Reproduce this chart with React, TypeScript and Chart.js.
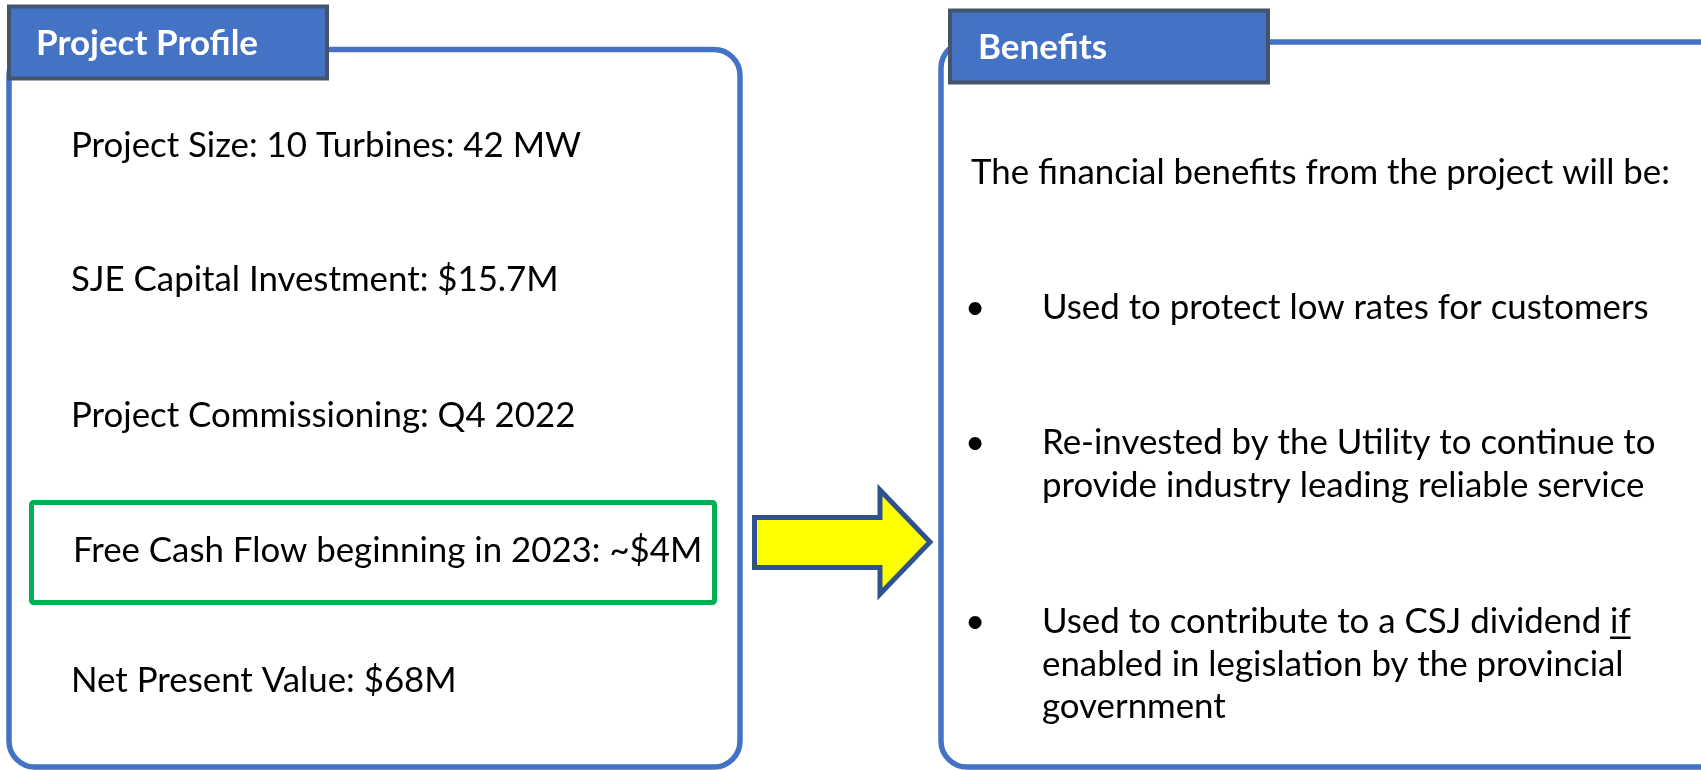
import React, { useEffect, useRef } from "react";
import { Chart, registerables } from "chart.js";

Chart.register(...registerables);

// ---- content ----
const profileTitle = "Project Profile";
const profileItems = [
  "Project Size: 10 Turbines: 42 MW",
  "SJE Capital Investment: $15.7M",
  "Project Commissioning: Q4 2022",
  "Free Cash Flow beginning in 2023: ~$4M",
  "Net Present Value: $68M",
];
const highlightedItem = 3;

const benefitsTitle = "Benefits";
const benefitsIntro = "The financial benefits from the project will be:";
const benefitBullets = [
  ["Used to protect low rates for customers"],
  ["Re-invested by the Utility to continue to", "provide industry leading reliable service"],
  ["Used to contribute to a CSJ dividend if", "enabled in legislation by the provincial", "government"],
];
const underlinedWord = "if";

// ---- styles ----
const BLUE = "#4472C4";
const TAB_BORDER = "#44546A";
const GREEN = "#00B050";
const ARROW_FILL = "#FFFF00";
const ARROW_BORDER = "#2F528F";
const FONT = "Lato, 'Open Sans', sans-serif";

function roundRectPath(ctx: CanvasRenderingContext2D, x: number, y: number, w: number, h: number, r: number) {
  ctx.beginPath();
  ctx.moveTo(x + r, y);
  ctx.lineTo(x + w - r, y);
  ctx.arcTo(x + w, y, x + w, y + r, r);
  ctx.lineTo(x + w, y + h - r);
  ctx.arcTo(x + w, y + h, x + w - r, y + h, r);
  ctx.lineTo(x + r, y + h);
  ctx.arcTo(x, y + h, x, y + h - r, r);
  ctx.lineTo(x, y + r);
  ctx.arcTo(x, y, x + r, y, r);
  ctx.closePath();
}

const infographicPlugin = {
  id: "infographic",
  afterDraw(chart: any) {
    const ctx: CanvasRenderingContext2D = chart.ctx;
    ctx.save();
    ctx.fillStyle = "#ffffff";
    ctx.fillRect(0, 0, chart.width, chart.height);

    // fit fonts to the reference widths
    ctx.font = `100px ${FONT}`;
    const bodySize = (100 * 510) / ctx.measureText(profileItems[0]).width;
    ctx.font = `bold 100px ${FONT}`;
    const headSize = (100 * 222) / ctx.measureText(profileTitle).width;
    const bodyFont = `${bodySize.toFixed(2)}px ${FONT}`;
    const headFont = `bold ${headSize.toFixed(2)}px ${FONT}`;

    // outer boxes
    ctx.strokeStyle = BLUE;
    ctx.lineWidth = 5.5;
    roundRectPath(ctx, 9, 49.5, 731, 717.5, 26);
    ctx.stroke();
    roundRectPath(ctx, 941, 42, 790, 725, 26);
    ctx.stroke();

    // tabs
    const tabs = [
      { x: 9, y: 6.5, w: 318, h: 72, text: profileTitle, tx: 36, ty: 55 },
      { x: 950, y: 10.5, w: 318, h: 72, text: benefitsTitle, tx: 978, ty: 59 },
    ];
    tabs.forEach((t) => {
      ctx.fillStyle = BLUE;
      ctx.fillRect(t.x, t.y, t.w, t.h);
      ctx.strokeStyle = TAB_BORDER;
      ctx.lineWidth = 4;
      ctx.strokeRect(t.x, t.y, t.w, t.h);
      ctx.fillStyle = "#ffffff";
      ctx.font = headFont;
      ctx.textAlign = "left";
      ctx.textBaseline = "alphabetic";
      ctx.fillText(t.text, t.tx, t.ty);
    });

    // green highlight box
    ctx.strokeStyle = GREEN;
    ctx.lineWidth = 5;
    ctx.lineJoin = "miter";
    roundRectPath(ctx, 31.5, 502.5, 683, 100, 2);
    ctx.stroke();

    // left texts
    const leftBaselines = [157, 291, 427, 562, 692];
    ctx.fillStyle = "#000000";
    ctx.font = bodyFont;
    ctx.textAlign = "left";
    profileItems.forEach((txt, i) => {
      const x = i === highlightedItem ? 73 : 71;
      ctx.fillText(txt, x, leftBaselines[i]);
    });

    // right texts
    ctx.fillText(benefitsIntro, 971, 184);
    const bulletBaselines = [319, 454, 633];
    const lineH = 42.5;
    benefitBullets.forEach((lines, bi) => {
      const b0 = bulletBaselines[bi];
      ctx.textAlign = "center";
      ctx.fillText("\u2022", 975, b0);
      ctx.textAlign = "left";
      lines.forEach((ln, li) => {
        const by = b0 + li * lineH;
        ctx.fillText(ln, 1042, by);
        const suffix = " " + underlinedWord;
        if (ln.endsWith(suffix)) {
          const pre = ln.slice(0, ln.length - underlinedWord.length);
          const xs = 1042 + ctx.measureText(pre).width;
          const w = ctx.measureText(underlinedWord).width;
          ctx.fillRect(xs, by + 3.5, w, 2.5);
        }
      });
    });

    // arrow
    ctx.beginPath();
    ctx.moveTo(754.5, 517.5);
    ctx.lineTo(880, 517.5);
    ctx.lineTo(880, 490);
    ctx.lineTo(930, 542);
    ctx.lineTo(880, 594);
    ctx.lineTo(880, 567.5);
    ctx.lineTo(754.5, 567.5);
    ctx.closePath();
    ctx.fillStyle = ARROW_FILL;
    ctx.fill();
    ctx.strokeStyle = ARROW_BORDER;
    ctx.lineWidth = 5;
    ctx.lineJoin = "miter";
    ctx.stroke();

    ctx.restore();
  },
};

export default function App() {
  const ref = useRef<HTMLCanvasElement | null>(null);
  useEffect(() => {
    document.body.style.margin = "0";
    document.body.style.overflow = "hidden";
    const canvas = ref.current;
    if (!canvas) return;
    const chart = new Chart(canvas, {
      type: "scatter",
      data: { datasets: [] },
      options: {
        responsive: false,
        maintainAspectRatio: false,
        animation: false,
        events: [],
        layout: { padding: 0 },
        scales: { x: { display: false }, y: { display: false } },
        plugins: { legend: { display: false }, tooltip: { enabled: false } },
      },
      plugins: [infographicPlugin],
    });
    return () => chart.destroy();
  }, []);
  return (
    <div style={{ width: 1701, height: 770, background: "#fff" }}>
      <canvas ref={ref} width={1701} height={770} style={{ display: "block" }} />
    </div>
  );
}
